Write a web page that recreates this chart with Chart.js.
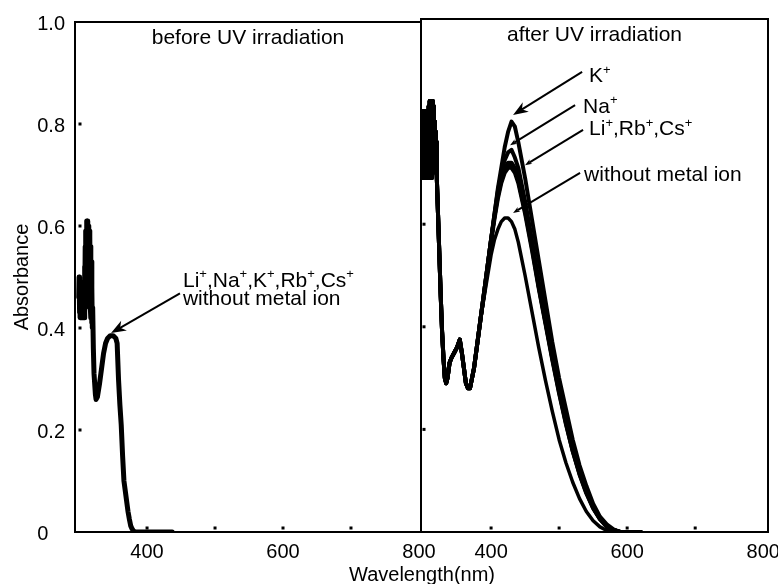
<!DOCTYPE html>
<html>
<head>
<meta charset="utf-8">
<script src="https://cdn.jsdelivr.net/npm/chart.js@4.4.0/dist/chart.umd.min.js"></script>
<style>
  html, body { margin: 0; padding: 0; background: #fff; overflow: hidden; }
  #wrap { position: relative; width: 778px; height: 584px; overflow: hidden; }
  #wrap canvas { position: absolute; left: 0; top: 0; }
</style>
</head>
<body>
<div id="wrap">
  <canvas id="before" width="778" height="584" style="width:778px;height:584px"></canvas>
  <canvas id="after" width="800" height="584" style="width:800px;height:584px"></canvas>
</div>
<script>
const FONT = '"Liberation Sans", Arial, Helvetica, sans-serif';
Chart.defaults.font.family = FONT;
Chart.defaults.color = '#000';

// Before UV irradiation. All five ions and the blank overlap, so one trace.
// The short wavelength end is noisy (solid band in the picture).
const wlBefore = [299.5, 300, 300.5, 301, 301.5, 302, 302.5, 303, 303.5, 304, 304.5, 305, 305.5, 306, 306.5,
  307, 307.5, 308, 308.5, 309, 309.5, 310, 310.5, 311, 311.5, 312, 312.5, 313, 313.5, 314, 314.5,
  315, 315.5, 316, 316.5, 317, 317.5, 318, 318.5, 319, 319.5, 320,
  321, 322, 324, 325, 327, 330, 333, 336, 339, 342, 346, 350, 354, 356, 358, 360, 362, 364, 366, 368,
  370, 372, 374, 376, 378, 380, 383, 390, 400, 420, 437];
const absBefore = [0.46, 0.50, 0.43, 0.50, 0.42, 0.49, 0.43, 0.48, 0.42, 0.47, 0.42, 0.46, 0.42, 0.45, 0.42,
  0.46, 0.42, 0.52, 0.43, 0.56, 0.44, 0.59, 0.46, 0.61, 0.47, 0.61, 0.48, 0.61, 0.47, 0.60, 0.46,
  0.59, 0.45, 0.58, 0.44, 0.56, 0.42, 0.53, 0.41, 0.48, 0.40, 0.44,
  0.36, 0.31, 0.27, 0.26, 0.265, 0.29, 0.32, 0.35, 0.37, 0.38, 0.385, 0.385, 0.38, 0.37, 0.30, 0.25, 0.21, 0.15, 0.10, 0.08,
  0.06, 0.04, 0.025, 0.012, 0.006, 0.002, 0, 0, 0, 0, 0];

// After UV irradiation. Short wavelength part is the same for every sample.
const wlAfterShort = [298, 298.5, 299, 299.5, 300, 300.5, 301, 301.5, 302, 302.5, 303, 303.5, 304, 304.5, 305,
  305.5, 306, 306.5, 307, 307.5, 308, 308.5, 309, 309.5, 310, 310.5, 311, 311.5, 312, 312.5,
  313, 313.5, 314, 314.5, 315, 315.5, 316, 316.5, 317, 317.5, 318, 318.5, 319, 319.5, 320,
  321, 322, 324, 326, 328, 330, 332, 334, 336, 339, 342, 346, 350, 354, 357, 360, 363, 366, 369, 372, 375, 380, 385];
const absAfterShort = [0.75, 0.81, 0.69, 0.82, 0.70, 0.81, 0.69, 0.82, 0.70, 0.81, 0.69, 0.82, 0.70, 0.81, 0.69,
  0.82, 0.70, 0.81, 0.69, 0.82, 0.70, 0.83, 0.69, 0.84, 0.70, 0.84, 0.69, 0.84, 0.70, 0.84,
  0.69, 0.84, 0.70, 0.84, 0.71, 0.83, 0.72, 0.80, 0.71, 0.79, 0.72, 0.78, 0.71, 0.76, 0.70,
  0.66, 0.62, 0.54, 0.46, 0.39, 0.34, 0.30, 0.29, 0.30, 0.33, 0.34, 0.35, 0.36, 0.375, 0.35, 0.32, 0.29, 0.28, 0.28, 0.30, 0.32, 0.37, 0.42];

// Visible band, one array per sample
const wlBand = [390, 395, 400, 405, 410, 415, 420, 425, 430, 435, 440, 450, 460, 470, 480, 490, 500,
  510, 520, 530, 540, 550, 560, 570, 580, 590, 620];
const absK = [0.47, 0.52, 0.57, 0.62, 0.67, 0.71, 0.75, 0.78, 0.80, 0.79, 0.76, 0.69, 0.61, 0.53, 0.45, 0.37, 0.30,
  0.24, 0.18, 0.13, 0.09, 0.055, 0.03, 0.015, 0.005, 0, 0];
const absNa = [0.47, 0.52, 0.57, 0.62, 0.665, 0.70, 0.725, 0.74, 0.745, 0.73, 0.71, 0.645, 0.57, 0.49, 0.415, 0.345, 0.28,
  0.22, 0.165, 0.12, 0.08, 0.05, 0.027, 0.012, 0.004, 0, 0];
const absLi = [0.47, 0.52, 0.57, 0.615, 0.66, 0.69, 0.71, 0.72, 0.72, 0.71, 0.69, 0.63, 0.56, 0.48, 0.41, 0.34, 0.275,
  0.215, 0.16, 0.115, 0.078, 0.048, 0.026, 0.011, 0.004, 0, 0];
const absRb = [0.465, 0.515, 0.565, 0.61, 0.65, 0.68, 0.70, 0.71, 0.71, 0.70, 0.68, 0.62, 0.55, 0.475, 0.405, 0.335, 0.27,
  0.21, 0.157, 0.112, 0.075, 0.046, 0.025, 0.01, 0.003, 0, 0];
const absCs = [0.47, 0.52, 0.57, 0.615, 0.655, 0.685, 0.705, 0.715, 0.715, 0.705, 0.685, 0.625, 0.555, 0.478, 0.408, 0.338, 0.272,
  0.212, 0.158, 0.113, 0.077, 0.047, 0.025, 0.011, 0.004, 0, 0];
const absNone = [0.46, 0.50, 0.54, 0.57, 0.59, 0.605, 0.612, 0.612, 0.605, 0.59, 0.565, 0.50, 0.43, 0.36, 0.295, 0.235, 0.18,
  0.135, 0.097, 0.065, 0.04, 0.022, 0.01, 0.003, 0, 0, 0];

const yTicks = [0, 0.2, 0.4, 0.6, 0.8, 1.0];
const xTicks = [400, 600, 800];
const xDots = [400, 500, 600, 700];
const yDots = [0.2, 0.4, 0.6, 0.8];

const toPoints = (xs, ys) => xs.map((x, i) => ({ x, y: ys[i] }));

// '+' is always drawn as a superscript
function richText(ctx, text, x, y, size) {
  let cx = x;
  for (const part of text.split(/(\+)/)) {
    if (!part) continue;
    if (part === '+') {
      ctx.font = `${Math.round(size * 0.62)}px ${FONT}`;
      ctx.fillText('+', cx, y - size * 0.4);
    } else {
      ctx.font = `${size}px ${FONT}`;
      ctx.fillText(part, cx, y);
    }
    cx += ctx.measureText(part).width;
  }
}

function arrow(ctx, x0, y0, x1, y1, head) {
  const a = Math.atan2(y1 - y0, x1 - x0);
  const c = Math.cos(a), s = Math.sin(a);
  ctx.lineWidth = 2;
  ctx.beginPath();
  ctx.moveTo(x0, y0);
  ctx.lineTo(x1 - c * head * 0.7, y1 - s * head * 0.7);
  ctx.stroke();
  const w = head * 0.38;
  ctx.beginPath();
  ctx.moveTo(x1, y1);
  ctx.lineTo(x1 - c * head + s * w, y1 - s * head - c * w);
  ctx.lineTo(x1 - c * head * 0.7, y1 - s * head * 0.7);
  ctx.lineTo(x1 - c * head - s * w, y1 - s * head + c * w);
  ctx.closePath();
  ctx.fill();
}

const panelPlugin = {
  id: 'panel',
  afterDatasetsDraw(chart, args, opts) {
    const { ctx, chartArea: a } = chart;
    const x = chart.scales.x, y = chart.scales.y;
    ctx.save();
    ctx.strokeStyle = '#000';
    ctx.fillStyle = '#000';
    ctx.lineWidth = 2;
    ctx.strokeRect(a.left, a.top, a.right - a.left, a.bottom - a.top);

    for (const v of yDots) ctx.fillRect(a.left + opts.dotInset - 1.5, y.getPixelForValue(v) - 1.5, 3, 3);
    for (const v of xDots) ctx.fillRect(x.getPixelForValue(v) - 1.5, a.bottom - 5.5, 3, 3);

    ctx.textAlign = 'center';
    ctx.textBaseline = 'alphabetic';
    ctx.font = `21px ${FONT}`;
    ctx.fillText(opts.title, (a.left + a.right) / 2, a.top + 22);

    ctx.textAlign = 'left';
    for (const n of opts.notes) {
      const tx = x.getPixelForValue(n.at[0]);
      let ty = y.getPixelForValue(n.at[1]);
      for (const line of n.lines) {
        richText(ctx, line, tx, ty, 21);
        ty += 18;
      }
      arrow(ctx, x.getPixelForValue(n.from[0]), y.getPixelForValue(n.from[1]),
        x.getPixelForValue(n.to[0]), y.getPixelForValue(n.to[1]), n.head);
    }

    if (opts.xTitle) {
      ctx.textAlign = 'center';
      ctx.font = `20px ${FONT}`;
      ctx.fillText(opts.xTitle, a.right + 1, 581);
    }
    ctx.restore();
  }
};

function panelScales(xMin, xMax, showY) {
  return {
    x: {
      type: 'linear', min: xMin, max: xMax,
      grid: { display: false, drawTicks: false },
      border: { display: false },
      afterBuildTicks: (s) => { s.ticks = xTicks.map((v) => ({ value: v })); },
      afterFit: (s) => { s.height = 52; },
      ticks: { font: { size: 20 }, padding: 8, maxRotation: 0, callback: (v) => String(v) }
    },
    y: {
      type: 'linear', min: 0, max: 1, display: showY,
      grid: { display: false, drawTicks: false },
      border: { display: false },
      afterBuildTicks: (s) => { s.ticks = yTicks.map((v) => ({ value: v })); },
      afterFit: (s) => { s.width = showY ? 75 : 0; },
      // the zero label sits further left in the original
      ticks: { font: { size: 20 }, padding: 10, labelOffset: 2, callback: (v) => (v === 0 ? '0   ' : v.toFixed(1)) },
      title: { display: true, text: 'Absorbance', font: { size: 20 }, padding: { top: 10, bottom: 0 } }
    }
  };
}

const lineStyle = (w) => ({
  borderColor: '#000', borderWidth: w, pointRadius: 0, fill: false,
  tension: 0, borderJoinStyle: 'round', borderCapStyle: 'round'
});

new Chart(document.getElementById('before'), {
  type: 'line',
  data: {
    datasets: [{ label: 'all', data: toPoints(wlBefore, absBefore), ...lineStyle(5) }]
  },
  options: {
    responsive: false, animation: false, events: [],
    layout: { padding: { left: 0, top: 19, right: 357, bottom: 0 } },
    scales: panelScales(294, 803, true),
    plugins: {
      legend: { display: false }, tooltip: { enabled: false },
      panel: {
        title: 'before UV irradiation', dotInset: 5, xTitle: 'Wavelength(nm)',
        notes: [{ lines: ['Li+,Na+,K+,Rb+,Cs+', 'without metal ion'], at: [452.8, 0.481],
          from: [448.4, 0.468], to: [347, 0.39], head: 15 }]
      }
    }
  },
  plugins: [panelPlugin]
});

const afterSeries = [
  { label: 'K+', abs: absK, width: 4 },
  { label: 'Na+', abs: absNa, width: 4 },
  { label: 'Li+', abs: absLi, width: 4 },
  { label: 'Rb+', abs: absRb, width: 4 },
  { label: 'Cs+', abs: absCs, width: 4 },
  { label: 'none', abs: absNone, width: 3.5 }
];

new Chart(document.getElementById('after'), {
  type: 'line',
  data: {
    datasets: afterSeries.map((s) => ({
      label: s.label,
      data: toPoints(wlAfterShort.concat(wlBand), absAfterShort.concat(s.abs)),
      ...lineStyle(s.width)
    }))
  },
  options: {
    responsive: false, animation: false, events: [],
    layout: { padding: { left: 421, top: 19, right: 32, bottom: 0 } },
    scales: panelScales(297, 807, false),
    plugins: {
      legend: { display: false }, tooltip: { enabled: false },
      panel: {
        title: 'after UV irradiation', dotInset: 3,
        notes: [
          { lines: ['K+'], at: [544, 0.877], from: [533.8, 0.897], to: [432.3, 0.813], head: 15 },
          { lines: ['Na+'], at: [535.2, 0.817], from: [523.5, 0.832], to: [427.9, 0.754], head: 7 },
          { lines: ['Li+,Rb+,Cs+'], at: [544, 0.774], from: [535.2, 0.784], to: [449.9, 0.715], head: 7 },
          { lines: ['without metal ion'], at: [536.7, 0.684], from: [530.8, 0.700], to: [432.3, 0.622], head: 7 }
        ]
      }
    }
  },
  plugins: [panelPlugin]
});
</script>
</body>
</html>
